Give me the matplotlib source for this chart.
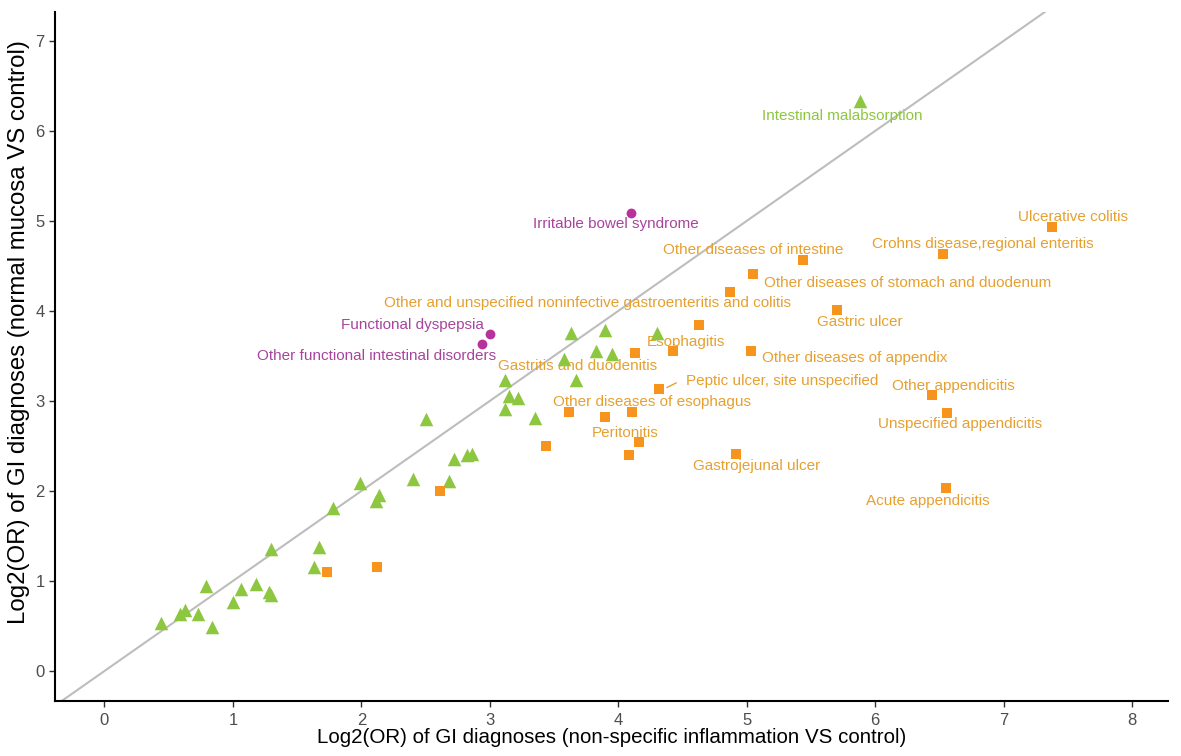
import matplotlib
matplotlib.use("Agg")
from matplotlib import pyplot as plt

plt.rcParams['font.family'] = ['Liberation Sans', 'DejaVu Sans']

# log2(OR): non-specific inflammation (x) vs normal mucosa (y)
other_x = [0.44, 0.59, 0.63, 0.73, 0.84, 0.79, 1.00, 1.06, 1.18, 1.28, 1.30, 1.30,
           1.67, 1.63, 1.78, 1.99, 2.11, 2.14, 2.40, 2.68, 2.72, 2.82, 2.86, 2.50,
           3.12, 3.15, 3.22, 3.12, 3.35, 3.58, 3.63, 3.67, 3.83, 3.90, 3.95, 4.30, 5.88]
other_y = [0.53, 0.63, 0.68, 0.63, 0.49, 0.94, 0.77, 0.91, 0.97, 0.88, 0.84, 1.36,
           1.38, 1.16, 1.81, 2.09, 1.89, 1.95, 2.13, 2.11, 2.35, 2.40, 2.41, 2.80,
           3.23, 3.06, 3.03, 2.91, 2.81, 3.47, 3.76, 3.23, 3.56, 3.79, 3.52, 3.76, 6.33]
other_names = [''] * 36 + ['Intestinal malabsorption']

inflam_x = [1.73, 2.12, 2.61, 3.44, 3.62, 3.90, 4.11, 4.08, 4.16, 4.32, 4.13, 4.43,
            4.63, 5.03, 4.92, 4.87, 5.05, 5.44, 5.70, 6.53, 7.38, 6.44, 6.56, 6.55]
inflam_y = [1.10, 1.15, 2.00, 2.50, 2.88, 2.82, 2.88, 2.40, 2.54, 3.13, 3.53, 3.55,
            3.84, 3.56, 2.41, 4.21, 4.41, 4.57, 4.01, 4.63, 4.93, 3.07, 2.87, 2.03]
inflam_names = ['', '', '', '', '', 'Peritonitis', 'Other diseases of esophagus', '', '',
                'Peptic ulcer, site unspecified', 'Gastritis and duodenitis', '',
                'Esophagitis', 'Other diseases of appendix', 'Gastrojejunal ulcer',
                'Other and unspecified noninfective gastroenteritis and colitis',
                'Other diseases of stomach and duodenum', 'Other diseases of intestine',
                'Gastric ulcer', 'Crohns disease,regional enteritis', 'Ulcerative colitis',
                'Other appendicitis', 'Unspecified appendicitis', 'Acute appendicitis']

func_x = [4.10, 3.00, 2.94]
func_y = [5.09, 3.74, 3.63]
func_names = ['Irritable bowel syndrome', 'Functional dyspepsia',
              'Other functional intestinal disorders']

# where each label text sits (centre of the text)
label_xy = {
    'Intestinal malabsorption': (5.74, 6.17),
    'Irritable bowel syndrome': (3.98, 4.97),
    'Functional dyspepsia': (2.40, 3.84),
    'Other functional intestinal disorders': (2.12, 3.50),
    'Other and unspecified noninfective gastroenteritis and colitis': (3.76, 4.09),
    'Other diseases of intestine': (5.05, 4.68),
    'Other diseases of stomach and duodenum': (6.25, 4.31),
    'Gastric ulcer': (5.88, 3.88),
    'Esophagitis': (4.53, 3.66),
    'Gastritis and duodenitis': (3.68, 3.39),
    'Other diseases of appendix': (5.84, 3.48),
    'Peptic ulcer, site unspecified': (5.28, 3.22),
    'Other diseases of esophagus': (4.26, 2.99),
    'Peritonitis': (4.05, 2.64),
    'Gastrojejunal ulcer': (5.08, 2.28),
    'Ulcerative colitis': (7.54, 5.04),
    'Crohns disease,regional enteritis': (6.84, 4.74),
    'Other appendicitis': (6.61, 3.17),
    'Unspecified appendicitis': (6.66, 2.74),
    'Acute appendicitis': (6.41, 1.89),
}

green = '#8DC63F'
orange = '#F7941D'
orange_txt = '#E6A030'
purple = '#B5339A'
purple_txt = '#A8449C'

fig = plt.figure(figsize=(11.81, 7.56), dpi=100)
ax = fig.add_axes([0.0466, 0.0728, 0.9424, 0.9112])

ax.set_xlim(-0.385, 8.28)
ax.set_ylim(-0.333, 7.32)

ax.axline((0, 0), slope=1, color='#BDBDBD', lw=1.5, zorder=1)

ax.scatter(other_x, other_y, marker='^', s=95, color=green, lw=0, zorder=3)
ax.scatter(inflam_x, inflam_y, marker='s', s=60, color=orange, lw=0, zorder=3)
ax.scatter(func_x, func_y, marker='o', s=50, color=purple, lw=0, zorder=3)

groups = [(other_x, other_y, other_names, green),
          (inflam_x, inflam_y, inflam_names, orange_txt),
          (func_x, func_y, func_names, purple_txt)]
for xs, ys, names, col in groups:
    for x, y, name in zip(xs, ys, names):
        if not name:
            continue
        tx, ty = label_xy[name]
        ax.text(tx, ty, name, color=col, fontsize=11, ha='center', va='center', zorder=2)
        if name == 'Peptic ulcer, site unspecified':
            ax.plot([x + 0.06, 4.45], [y + 0.02, 3.2], color=col, lw=1, zorder=2)

for side in ['top', 'right']:
    ax.spines[side].set_visible(False)
for side in ['left', 'bottom']:
    ax.spines[side].set_linewidth(1.5)
    ax.spines[side].set_color('black')

ax.set_xticks(range(0, 9))
ax.set_yticks(range(0, 8))
ax.tick_params(length=4, width=1, color='#333333', labelcolor='#4D4D4D', labelsize=12)
ax.tick_params(axis='x', pad=4.5)

ax.set_xlabel('Log2(OR) of GI diagnoses (non-specific inflammation VS control)',
              fontsize=14.8, color='black', labelpad=0)
ax.set_ylabel('Log2(OR) of GI diagnoses (normal mucosa VS control)',
              fontsize=17.3, color='black')
ax.yaxis.set_label_coords(-0.0225, 0.535)

fig.savefig('out.png', dpi=100, facecolor='white')
